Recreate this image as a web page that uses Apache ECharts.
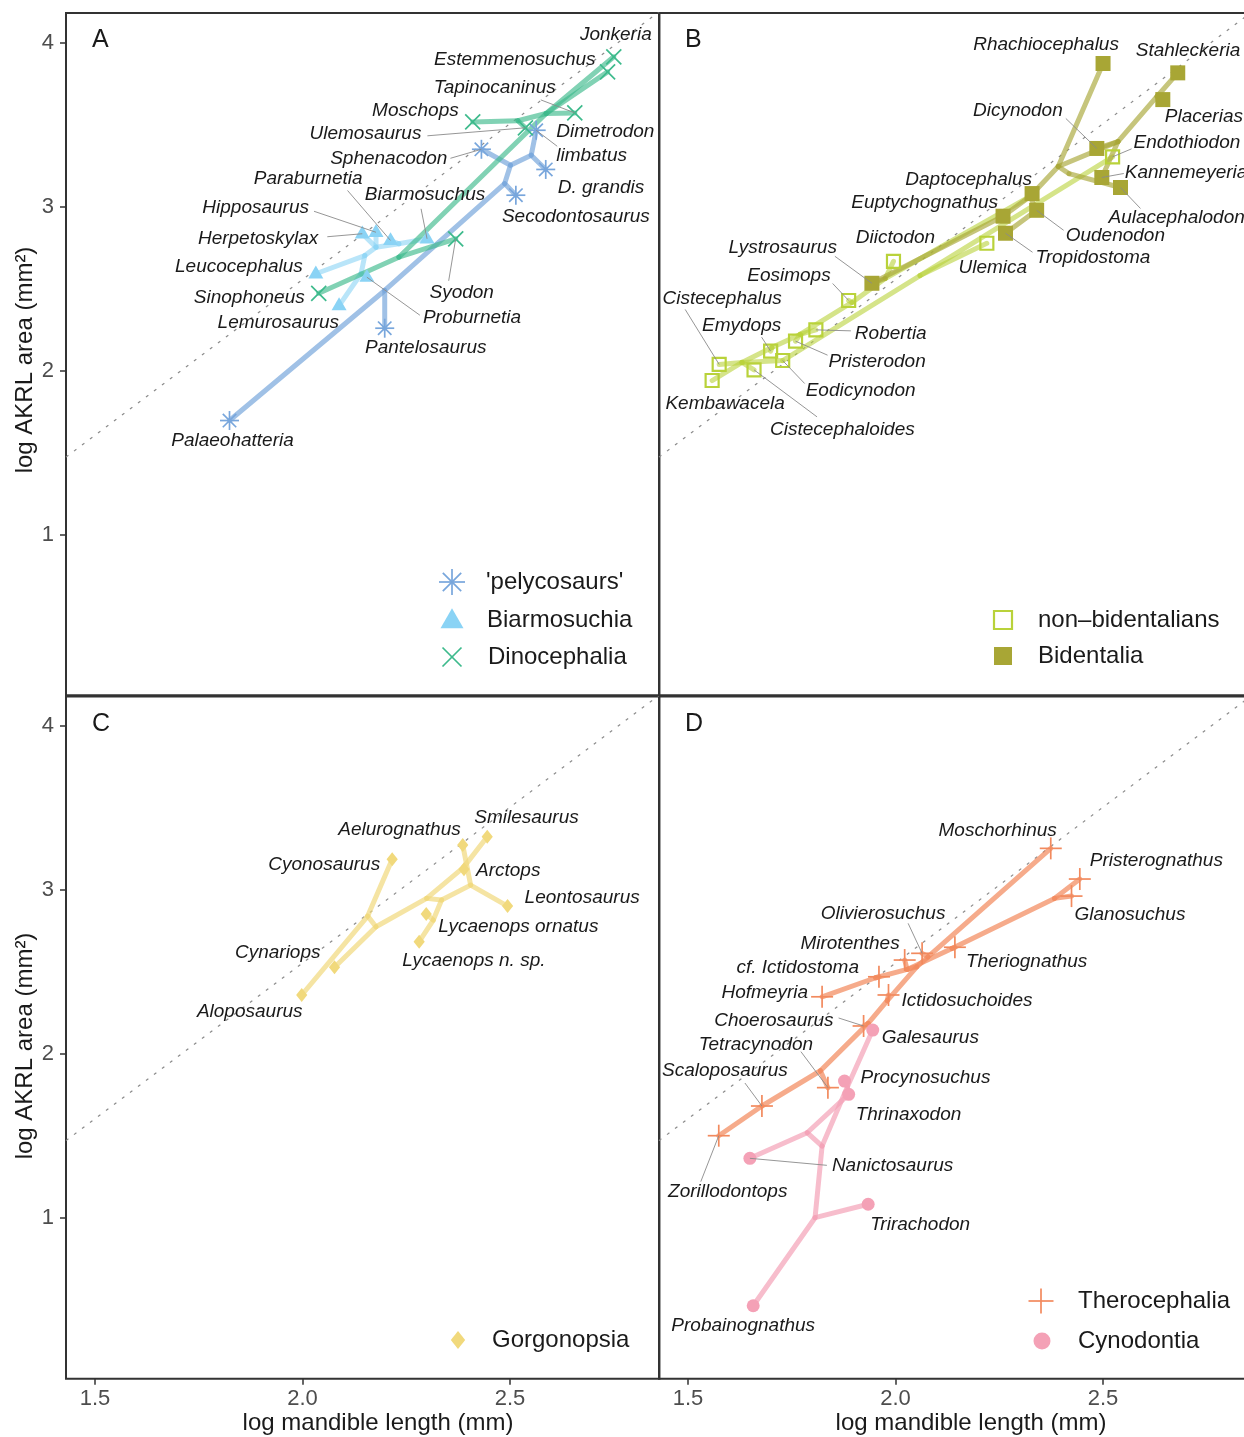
<!DOCTYPE html>
<html><head><meta charset="utf-8">
<script src="https://cdn.jsdelivr.net/npm/echarts@6/dist/echarts.min.js"></script>
<style>html,body{margin:0;padding:0;background:#fff}#c{width:1244px;height:1437px}</style>
</head><body><div id="c"></div><script>
// ---------------- DATA ----------------
// Panel A
const pelycoNames = ['Palaeohatteria','Pantelosaurus','Secodontosaurus','D. grandis','Dimetrodon limbatus','Sphenacodon'];
const pelycoX = [1.824,2.198,2.514,2.586,2.563,2.431];
const pelycoY = [1.695,2.258,3.069,3.226,3.465,3.349];
const biarmoNames = ['Herpetoskylax','Hipposaurus','Paraburnetia','Biarmosuchus','Leucocephalus','Proburnetia','Lemurosaurus'];
const biarmoX = [2.144,2.177,2.212,2.300,2.032,2.155,2.088];
const biarmoY = [2.834,2.843,2.793,2.803,2.590,2.569,2.396];
const dinoNames = ['Jonkeria','Estemmenosuchus','Tapinocaninus','Moschops','Ulemosaurus','Syodon','Sinophoneus'];
const dinoX = [2.750,2.735,2.656,2.410,2.537,2.369,2.039];
const dinoY = [3.913,3.821,3.571,3.516,3.480,2.803,2.471];
const nodeNamesA = ['a0','a1','a2','a3','g1','g2','g3','b2','b3','b4','b5'];
const nodeXA = [2.198,2.487,2.501,2.551,2.232,2.587,2.519,2.232,2.177,2.150,2.141];
const nodeYA = [2.488,3.140,3.252,3.313,2.691,3.567,3.523,2.773,2.752,2.701,2.590];
const pelycoEdges = [['Palaeohatteria','a0'],['a0','Pantelosaurus'],['a0','a1'],['a1','Secodontosaurus'],['a1','a2'],['a2','Sphenacodon'],['a2','a3'],['a3','D. grandis'],['a3','Dimetrodon limbatus']];
const biarmoEdges = [['b2','Biarmosuchus'],['b2','Paraburnetia'],['b2','b3'],['b3','Hipposaurus'],['b3','Herpetoskylax'],['b3','b4'],['b4','Leucocephalus'],['b4','b5'],['b5','Proburnetia'],['b5','Lemurosaurus']];
const dinoEdges = [['Sinophoneus','g1'],['g1','Syodon'],['g1','g2'],['g2','Jonkeria'],['g2','Estemmenosuchus'],['g2','Tapinocaninus'],['g2','g3'],['g3','Moschops'],['g3','Ulemosaurus']];

// Panel B
const nonbidNames = ['Endothiodon','Ulemica','Diictodon','Eosimops','Robertia','Pristerodon','Emydops','Eodicynodon','Cistecephaloides','Cistecephalus','Kembawacela'];
const nonbidX = [2.523,2.220,1.995,1.887,1.808,1.759,1.699,1.728,1.659,1.575,1.558];
const nonbidY = [3.303,2.776,2.666,2.427,2.248,2.179,2.118,2.061,2.004,2.037,1.939];
const bidNames = ['Rhachiocephalus','Stahleckeria','Placerias','Dicynodon','Kannemeyeria','Aulacephalodon','Daptocephalus','Euptychognathus','Oudenodon','Tropidostoma','Lystrosaurus'];
const bidX = [2.500,2.680,2.644,2.485,2.497,2.542,2.329,2.259,2.340,2.265,1.943];
const bidY = [3.872,3.815,3.652,3.354,3.177,3.116,3.079,2.941,2.977,2.837,2.532];
const nodeNamesB = ['l1','l2','l3','l4','l5','l7','d1','d2','d3','d4','d5'];
const nodeXB = [1.630,1.702,1.770,1.895,1.975,2.059,2.324,2.392,2.418,2.536,2.630];
const nodeYB = [2.049,2.140,2.220,2.415,2.561,2.579,3.061,3.244,3.201,3.396,3.671];
const nonbidEdges = [['Kembawacela','l1'],['Cistecephalus','l1'],['l1','Cistecephaloides'],['l1','l2'],['l2','Emydops'],['l2','l3'],['l3','Pristerodon'],['l3','Robertia'],['l3','l4'],['l4','Eosimops'],['l4','l5'],['l5','Diictodon'],['l5','d1'],['l1','Eodicynodon'],['Eodicynodon','l7'],['l7','Ulemica'],['l7','Endothiodon']];
const bidEdges = [['l5','Lystrosaurus'],['Lystrosaurus','Euptychognathus'],['Euptychognathus','d1'],['d1','Daptocephalus'],['d1','Oudenodon'],['Oudenodon','Tropidostoma'],['d1','d2'],['d2','Rhachiocephalus'],['d2','d3'],['d3','Aulacephalodon'],['d2','d4'],['d4','Dicynodon'],['d4','Kannemeyeria'],['d4','d5'],['d5','Placerias'],['d5','Stahleckeria']];

// Panel C
const gorgNames = ['Smilesaurus','Aelurognathus','Arctops','Cyonosaurus','Leontosaurus','Lycaenops ornatus','Lycaenops n. sp.','Cynariops','Aloposaurus'];
const gorgX = [2.445,2.386,2.389,2.216,2.494,2.298,2.281,2.077,1.998];
const gorgY = [3.325,3.274,3.126,3.187,2.902,2.854,2.685,2.529,2.360];
const nodeNamesC = ['c1','c2','c3','c4','c5','c6','c8'];
const nodeXC = [2.157,2.177,2.299,2.335,2.405,2.388,2.315];
const nodeYC = [2.841,2.776,2.949,2.939,3.030,3.138,2.817];
const gorgEdges = [['Aloposaurus','c1'],['c1','Cyonosaurus'],['c1','c2'],['c2','Cynariops'],['c2','c3'],['c3','c6'],['c6','Arctops'],['c6','Smilesaurus'],['c3','c4'],['c4','c5'],['c5','Leontosaurus'],['c5','Aelurognathus'],['c4','c8'],['c8','Lycaenops ornatus'],['c8','Lycaenops n. sp.']];

// Panel D
const theroNames = ['Moschorhinus','Pristerognathus','Glanosuchus','Theriognathus','Olivierosuchus','Mirotenthes','cf. Ictidostoma','Hofmeyria','Ictidosuchoides','Choerosaurus','Tetracynodon','Scaloposaurus','Zorillodontops'];
const theroX = [2.374,2.444,2.424,2.143,2.064,2.022,1.960,1.823,1.983,1.923,1.837,1.678,1.574];
const theroY = [3.254,3.067,2.963,2.651,2.614,2.573,2.471,2.349,2.360,2.171,1.795,1.683,1.502];
const cynoNames = ['Galesaurus','Procynosuchus','Thrinaxodon','Nanictosaurus','Trirachodon','Probainognathus'];
const cynoX = [1.945,1.877,1.887,1.649,1.934,1.657];
const cynoY = [2.146,1.835,1.754,1.364,1.084,0.465];
const nodeNamesD = ['t1','t2','t2b','t3','t4','t5','t6','t7','t8','p1','p2','p3','p4'];
const nodeXD = [1.819,1.934,1.980,2.051,2.028,2.078,2.136,1.952,2.383,1.806,1.823,1.787,1.884];
const nodeYD = [1.898,2.187,2.325,2.532,2.516,2.593,2.644,2.465,2.949,1.002,1.439,1.520,1.801];
const theroEdges = [['Zorillodontops','Scaloposaurus'],['Scaloposaurus','t1'],['t1','Tetracynodon'],['t1','t2'],['t2','Choerosaurus'],['t2','t2b'],['t2b','Ictidosuchoides'],['t2b','t3'],['t3','t5'],['t5','Olivierosuchus'],['t5','Moschorhinus'],['t3','t4'],['t4','Mirotenthes'],['t4','t7'],['t7','cf. Ictidostoma'],['t7','Hofmeyria'],['t4','t6'],['t6','Theriognathus'],['t6','t8'],['t8','Glanosuchus'],['t8','Pristerognathus']];
const cynoEdges = [['p1','Probainognathus'],['p1','Trirachodon'],['p1','p2'],['p2','p3'],['p3','Nanictosaurus'],['p3','Thrinaxodon'],['p2','p4'],['p4','Procynosuchus'],['p4','Galesaurus']];

// dotted guide line endpoints
const guideLine = [[1.43, 1.472], [2.86, 4.189]];

// axis ticks
const xTicks = [1.5, 2.0, 2.5];
const yTicks = [1, 2, 3, 4];

// ---------------- LAYOUT (label offsets in px: dx, dy, align, leader start, text) ----------------
const labelLayout = {
  'Palaeohatteria':[3,20,'center'], 'Pantelosaurus':[41,20,'center'], 'Secodontosaurus':[60,22,'center'],
  'D. grandis':[12,18,'left'], 'Dimetrodon limbatus':[20,13,'left',[21,16],'Dimetrodon\nlimbatus'],
  'Sphenacodon':[-34,9,'right',[-31,9]], 'Moschops':[-14,-11,'right'], 'Ulemosaurus':[-104,6,'right',[-98,8]],
  'Tapinocaninus':[-80,-25,'center',[-34,-13]], 'Estemmenosuchus':[-12,-12,'right'], 'Jonkeria':[2,-22,'center'],
  'Syodon':[6,54,'center',[-7,42]], 'Sinophoneus':[-14,4,'right'], 'Lemurosaurus':[0,17,'right'],
  'Leucocephalus':[-13,-7,'right'], 'Herpetoskylax':[-44,5,'right',[-35,3]], 'Hipposaurus':[-67,-25,'right',[-62,-21]],
  'Paraburnetia':[-28,-62,'right',[-43,-50]], 'Biarmosuchus':[-2,-44,'center',[-6,-30]], 'Proburnetia':[56,41,'left',[53,38]],
  'Rhachiocephalus':[-57,-19,'center'], 'Stahleckeria':[-42,-22,'left'], 'Placerias':[2,17,'left'],
  'Endothiodon':[21,-14,'left',[19,-8]], 'Dicynodon':[-79,-38,'center',[-31,-30]], 'Kannemeyeria':[23,-5,'left',[22,-4]],
  'Aulacephalodon':[-12,30,'left',[20,21]], 'Daptocephalus':[0,-14,'right'], 'Euptychognathus':[-5,-13,'right'],
  'Oudenodon':[29,25,'left',[27,20]], 'Tropidostoma':[30,24,'left',[27,19]], 'Ulemica':[6,24,'center'],
  'Diictodon':[2,-24,'center'], 'Lystrosaurus':[-35,-36,'right',[-37,-27]], 'Eosimops':[-18,-25,'right',[-16,-17]],
  'Cistecephalus':[3,-66,'center',[-34,-55]], 'Emydops':[-29,-25,'center',[-9,-14]], 'Robertia':[39,4,'left',[35,1]],
  'Pristerodon':[33,21,'left',[32,14]], 'Eodicynodon':[23,30,'left',[22,23]], 'Cistecephaloides':[16,60,'left',[63,47]],
  'Kembawacela':[13,23,'center'],
  'Smilesaurus':[-13,-19,'left'], 'Aelurognathus':[-2,-15,'right'], 'Arctops':[12,1,'left'], 'Cyonosaurus':[-12,5,'right'],
  'Leontosaurus':[17,-8,'left'], 'Lycaenops ornatus':[12,13,'left'], 'Lycaenops n. sp.':[-17,19,'left'],
  'Cynariops':[-14,-15,'right'], 'Aloposaurus':[-52,17,'center'],
  'Moschorhinus':[6,-18,'right'], 'Pristerognathus':[10,-18,'left'], 'Glanosuchus':[3,19,'left'], 'Theriognathus':[11,14,'left'],
  'Olivierosuchus':[-39,-40,'center',[-14,-30]], 'Mirotenthes':[-5,-16,'right'], 'cf. Ictidostoma':[-20,-9,'right'],
  'Hofmeyria':[-14,-4,'right'], 'Ictidosuchoides':[13,6,'left'], 'Choerosaurus':[-30,-5,'right',[-25,-8]],
  'Galesaurus':[9,8,'left'], 'Tetracynodon':[-72,-43,'center',[-27,-36]], 'Scaloposaurus':[-37,-35,'center',[-17,-23]],
  'Procynosuchus':[16,-3,'left'], 'Thrinaxodon':[7,20,'left'], 'Nanictosaurus':[82,7,'left',[77,7]],
  'Zorillodontops':[9,56,'center',[-18,46]], 'Trirachodon':[2,20,'left'], 'Probainognathus':[-10,20,'center']
};

const FONT = '"Liberation Sans", Arial, Helvetica, sans-serif';
const COL = {
  pelyco:'#78a6dc', biarmo:'#8ad3f5', dino:'#3dba8c',
  nonbid:'#b9d23a', bid:'#a8a635', gorg:'#f1d97c', thero:'#f28a5e', cyno:'#f4a1b6'
};

// ---------------- HELPERS ----------------
function addAll(map, names, xs, ys){ names.forEach((n,i)=>{ map[n]=[xs[i], ys[i]]; }); }
function sym(kind, cx, cy, s, color){
  const r = s/2, lw = 1.7;
  const L = (x1,y1,x2,y2)=>({type:'line', shape:{x1,y1,x2,y2}, style:{stroke:color, lineWidth:lw}});
  switch(kind){
    case 'asterisk': { const ch=[]; for(let k=0;k<4;k++){ const a=k*Math.PI/4, dx=r*Math.cos(a), dy=r*Math.sin(a); ch.push(L(cx-dx,cy-dy,cx+dx,cy+dy)); } return {type:'group', children:ch}; }
    case 'x': return {type:'group', children:[L(cx-r,cy-r,cx+r,cy+r), L(cx-r,cy+r,cx+r,cy-r)]};
    case 'plus': return {type:'group', children:[L(cx-r,cy,cx+r,cy), L(cx,cy-r,cx,cy+r)]};
    case 'triangle': return {type:'polygon', shape:{points:[[cx,cy-r*1.1],[cx+r,cy+r*0.62],[cx-r,cy+r*0.62]]}, style:{fill:color}};
    case 'sqOpen': return {type:'rect', shape:{x:cx-r+1, y:cy-r+1, width:s-2, height:s-2}, style:{fill:'none', stroke:color, lineWidth:2.2}};
    case 'sqFill': return {type:'rect', shape:{x:cx-r, y:cy-r, width:s, height:s}, style:{fill:color}};
    case 'diamond': return {type:'polygon', shape:{points:[[cx,cy-r],[cx+r*0.8,cy],[cx,cy+r],[cx-r*0.8,cy]]}, style:{fill:color}};
    case 'circle': return {type:'circle', shape:{cx, cy, r}, style:{fill:color}};
  }
}
function edgeSeries(g, edges, lookup, color, opacity){
  return {type:'custom', xAxisIndex:g, yAxisIndex:g, silent:true, clip:true, z:2,
    encode:{x:[0,2], y:[1,3]},
    data: edges.map(e=>[lookup[e[0]][0], lookup[e[0]][1], lookup[e[1]][0], lookup[e[1]][1]]),
    renderItem:(p, api)=>{
      const a = api.coord([api.value(0), api.value(1)]), b = api.coord([api.value(2), api.value(3)]);
      return {type:'line', shape:{x1:a[0],y1:a[1],x2:b[0],y2:b[1]}, style:{stroke:color, lineWidth:5, lineCap:'round', opacity:opacity}};
    }};
}
function pointSeries(g, xs, ys, kind, size, color){
  return {type:'custom', xAxisIndex:g, yAxisIndex:g, silent:true, clip:false, z:5,
    encode:{x:0, y:1}, data: xs.map((x,i)=>[x, ys[i]]),
    renderItem:(p, api)=>{ const c = api.coord([api.value(0), api.value(1)]); return sym(kind, c[0], c[1], size, color); }};
}
function labelSeries(g, names, xs, ys){
  return {type:'custom', xAxisIndex:g, yAxisIndex:g, silent:true, clip:false, z:8,
    encode:{x:0, y:1}, data: xs.map((x,i)=>[x, ys[i]]),
    renderItem:(p, api)=>{
      const c = api.coord([api.value(0), api.value(1)]);
      const nm = names[p.dataIndex]; const Lo = labelLayout[nm]; const ch = [];
      if (Lo[3]) ch.push({type:'line', shape:{x1:c[0]+Lo[3][0], y1:c[1]+Lo[3][1], x2:c[0], y2:c[1]}, style:{stroke:'#8a8a8a', lineWidth:0.9}});
      ch.push({type:'text', style:{text: Lo[4] || nm, x:c[0]+Lo[0], y:c[1]+Lo[1], align:Lo[2], textAlign:Lo[2], verticalAlign:'middle', textVerticalAlign:'middle', font:'italic 19px '+FONT, fill:'#1a1a1a', lineHeight:24}});
      return {type:'group', children:ch};
    }};
}
function guideSeries(g){
  return {type:'line', xAxisIndex:g, yAxisIndex:g, data: guideLine, symbol:'none', silent:true, z:1, clip:true,
    lineStyle:{color:'#8c8c8c', width:1.2, type:[3,7]}};
}
function txt(text, x, y, size, align, extra){
  return Object.assign({type:'text', x, y, silent:true, style:{text, font: size+'px '+FONT, fill:'#1a1a1a', align, textAlign:align, verticalAlign:'middle', textVerticalAlign:'middle'}}, extra||{});
}

const lkA = {}; addAll(lkA, pelycoNames, pelycoX, pelycoY); addAll(lkA, biarmoNames, biarmoX, biarmoY); addAll(lkA, dinoNames, dinoX, dinoY); addAll(lkA, nodeNamesA, nodeXA, nodeYA);
const lkB = {}; addAll(lkB, nonbidNames, nonbidX, nonbidY); addAll(lkB, bidNames, bidX, bidY); addAll(lkB, nodeNamesB, nodeXB, nodeYB);
const lkC = {}; addAll(lkC, gorgNames, gorgX, gorgY); addAll(lkC, nodeNamesC, nodeXC, nodeYC);
const lkD = {}; addAll(lkD, theroNames, theroX, theroY); addAll(lkD, cynoNames, cynoX, cynoY); addAll(lkD, nodeNamesD, nodeXD, nodeYD);

// ---------------- AXES / GRIDS ----------------
const XMIN = 1.43, XMAX = 2.86, YMIN = 0.02, YMAX = 4.18;
const gridStyle = {show:true, borderColor:'#333', borderWidth:2, backgroundColor:'transparent', containLabel:false, outerBoundsMode:'none'};
const grids = [
  Object.assign({left:66, top:13, width:593.45, height:682.24}, gridStyle),
  Object.assign({left:659, top:13, width:593.45, height:682.24}, gridStyle),
  Object.assign({left:66, top:696.5, width:593.45, height:682.24}, gridStyle),
  Object.assign({left:659, top:696.5, width:593.45, height:682.24}, gridStyle)
];
function xAxis(g, showLab){
  return {gridIndex:g, type:'value', min:XMIN, max:XMAX, splitLine:{show:false}, axisLine:{show:false},
    axisTick:{show:showLab, customValues:xTicks, length:6, lineStyle:{color:'#333', width:1.5}},
    axisLabel:{show:showLab, customValues:xTicks, margin:9, fontSize:22, color:'#4d4d4d', fontFamily:FONT, formatter:v=>Number(v).toFixed(1)}};
}
function yAxis(g, showLab){
  return {gridIndex:g, type:'value', min:YMIN, max:YMAX, splitLine:{show:false}, axisLine:{show:false},
    axisTick:{show:showLab, customValues:yTicks, length:6, lineStyle:{color:'#333', width:1.5}},
    axisLabel:{show:showLab, customValues:yTicks, margin:12, fontSize:22, color:'#4d4d4d', fontFamily:FONT}};
}

// ---------------- SERIES ----------------
const series = [
  guideSeries(0),
  edgeSeries(0, pelycoEdges, lkA, COL.pelyco, 0.7),
  edgeSeries(0, biarmoEdges, lkA, COL.biarmo, 0.6),
  edgeSeries(0, dinoEdges, lkA, COL.dino, 0.65),
  pointSeries(0, pelycoX, pelycoY, 'asterisk', 19, COL.pelyco),
  pointSeries(0, biarmoX, biarmoY, 'triangle', 15, COL.biarmo),
  pointSeries(0, dinoX, dinoY, 'x', 15, COL.dino),
  labelSeries(0, pelycoNames.concat(biarmoNames, dinoNames), pelycoX.concat(biarmoX, dinoX), pelycoY.concat(biarmoY, dinoY)),

  guideSeries(1),
  edgeSeries(1, nonbidEdges, lkB, COL.nonbid, 0.6),
  edgeSeries(1, bidEdges, lkB, COL.bid, 0.65),
  pointSeries(1, nonbidX, nonbidY, 'sqOpen', 15, COL.nonbid),
  pointSeries(1, bidX, bidY, 'sqFill', 15, COL.bid),
  labelSeries(1, nonbidNames.concat(bidNames), nonbidX.concat(bidX), nonbidY.concat(bidY)),

  guideSeries(2),
  edgeSeries(2, gorgEdges, lkC, COL.gorg, 0.7),
  pointSeries(2, gorgX, gorgY, 'diamond', 14, COL.gorg),
  labelSeries(2, gorgNames, gorgX, gorgY),

  guideSeries(3),
  edgeSeries(3, cynoEdges, lkD, COL.cyno, 0.7),
  edgeSeries(3, theroEdges, lkD, COL.thero, 0.72),
  pointSeries(3, theroX, theroY, 'plus', 22, COL.thero),
  pointSeries(3, cynoX, cynoY, 'circle', 13, COL.cyno),
  labelSeries(3, theroNames.concat(cynoNames), theroX.concat(cynoX), theroY.concat(cynoY))
];

// ---------------- GRAPHIC (titles, panel letters, legends) ----------------
const graphic = [
  txt('A', 92, 40, 25, 'left'), txt('B', 685, 40, 25, 'left'), txt('C', 92, 724, 25, 'left'), txt('D', 685, 724, 25, 'left'),
  txt('log mandible length (mm)', 378, 1423, 24, 'center'),
  txt('log mandible length (mm)', 971, 1423, 24, 'center'),
  txt('log AKRL area (mm\u00B2)', 25, 360, 24, 'center', {rotation: Math.PI/2}),
  txt('log AKRL area (mm\u00B2)', 25, 1046, 24, 'center', {rotation: Math.PI/2}),
  // legend A
  Object.assign(sym('asterisk', 452, 582, 26, COL.pelyco), {silent:true}), txt("'pelycosaurs'", 486, 582, 24, 'left'),
  Object.assign(sym('triangle', 452, 621, 23, COL.biarmo), {silent:true}), txt('Biarmosuchia', 487, 620, 24, 'left'),
  Object.assign(sym('x', 452, 657, 19, COL.dino), {silent:true}), txt('Dinocephalia', 488, 657, 24, 'left'),
  // legend B
  Object.assign(sym('sqOpen', 1003, 620, 20, COL.nonbid), {silent:true}), txt('non\u2013bidentalians', 1038, 620, 24, 'left'),
  Object.assign(sym('sqFill', 1003, 656, 18, COL.bid), {silent:true}), txt('Bidentalia', 1038, 656, 24, 'left'),
  // legend C
  Object.assign(sym('diamond', 458, 1340, 18, COL.gorg), {silent:true}), txt('Gorgonopsia', 492, 1340, 24, 'left'),
  // legend D
  Object.assign(sym('plus', 1041, 1301, 25, COL.thero), {silent:true}), txt('Therocephalia', 1078, 1301, 24, 'left'),
  Object.assign(sym('circle', 1042, 1341, 17, COL.cyno), {silent:true}), txt('Cynodontia', 1078, 1341, 24, 'left')
];

const chart = echarts.init(document.getElementById('c'), null, {renderer:'canvas'});
chart.setOption({
  animation:false,
  backgroundColor:'#ffffff',
  grid: grids,
  xAxis: [xAxis(0,false), xAxis(1,false), xAxis(2,true), xAxis(3,true)],
  yAxis: [yAxis(0,true), yAxis(1,false), yAxis(2,true), yAxis(3,false)],
  series,
  graphic
});
</script></body></html>
